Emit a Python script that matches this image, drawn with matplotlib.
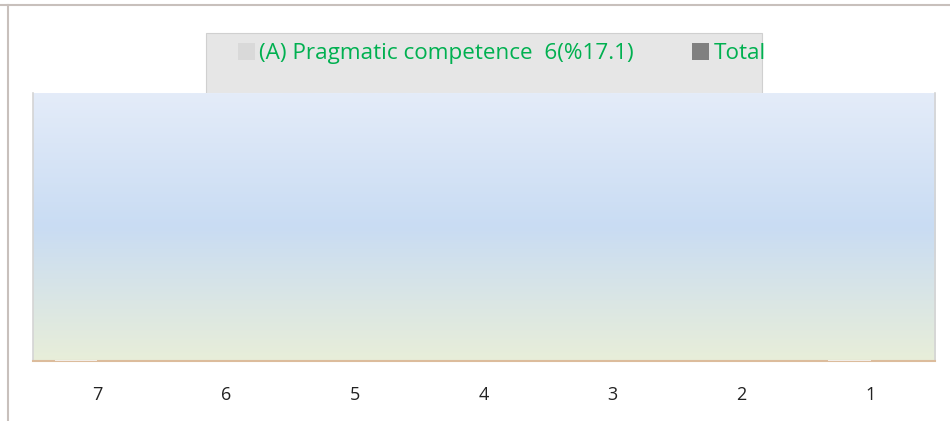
import matplotlib.pyplot as plt
from matplotlib.colors import LinearSegmentedColormap
from matplotlib.patches import Rectangle, Patch
from matplotlib.lines import Line2D
import numpy as np

# 数据
categories = ['7', '6', '5', '4', '3', '2', '1']
pragmatic = [0, np.nan, np.nan, np.nan, np.nan, np.nan, 0]
total = [np.nan] * 7
legend_labels = ['(A) Pragmatic competence  6(%17.1)', 'Total']

plt.rcParams['font.family'] = ['Open Sans', 'DejaVu Sans']

fig = plt.figure(figsize=(9.5, 4.21), dpi=100)

# 外框线 (顶部和左侧)
fig.add_artist(Line2D([0, 1], [0.988, 0.988], transform=fig.transFigure, color='#c8c0bc', lw=1.5))
fig.add_artist(Line2D([0.0085, 0.0085], [0, 0.988], transform=fig.transFigure, color='#c8c0bc', lw=1.5))

# 图例背景框 (在绘图区后面)
fig.add_artist(Rectangle((0.2168, 0.70), 0.585, 0.2216, transform=fig.transFigure,
                         facecolor='#e6e6e6', edgecolor='#d0d0d0', lw=0.8, zorder=0))

ax = fig.add_axes([0.0347, 0.1425, 0.9495, 0.6365])
ax.set_zorder(1)

# 渐变背景
cmap = LinearSegmentedColormap.from_list('bg', [(0.0, '#e8eed9'), (0.5, '#c9dcf3'), (1.0, '#e4ecf9')])
grad = np.linspace(0, 1, 256).reshape(-1, 1)
ax.imshow(grad, aspect='auto', cmap=cmap, origin='lower',
          extent=[-0.5, len(categories) - 0.5, 0, 1], zorder=0)

x = np.arange(len(categories))
w = 0.33
ax.bar(x - w / 2, pragmatic, w, color='#f2ede8', edgecolor='#f2ede8', lw=1.5, zorder=3)
ax.bar(x + w / 2, total, w, color='#808080', zorder=3)

ax.set_xlim(-0.5, len(categories) - 0.5)
ax.set_ylim(0, 1)
ax.set_xticks(x)
ax.set_xticklabels(categories, fontsize=13, color='#222222')
ax.tick_params(axis='x', length=0, pad=18)
ax.set_yticks([])

for s in ['left', 'right', 'top']:
    ax.spines[s].set_color('#d4d4d4')
    ax.spines[s].set_linewidth(1.2)
ax.spines['top'].set_visible(False)
ax.spines['bottom'].set_color('#dcbc9c')
ax.spines['bottom'].set_linewidth(1.5)

handles = [Patch(facecolor='#d9d9d9', edgecolor='none'), Patch(facecolor='#808080', edgecolor='none')]
leg = fig.legend(handles, legend_labels, loc='upper left', bbox_to_anchor=(0.229, 0.945),
                 ncol=2, frameon=False, handlelength=0.75, handleheight=0.75,
                 handletextpad=0.2, columnspacing=2.6, labelcolor='#00b050',
                 prop={'family': ['Open Sans'], 'size': 16.2})

fig.savefig('out.png', dpi=100)
